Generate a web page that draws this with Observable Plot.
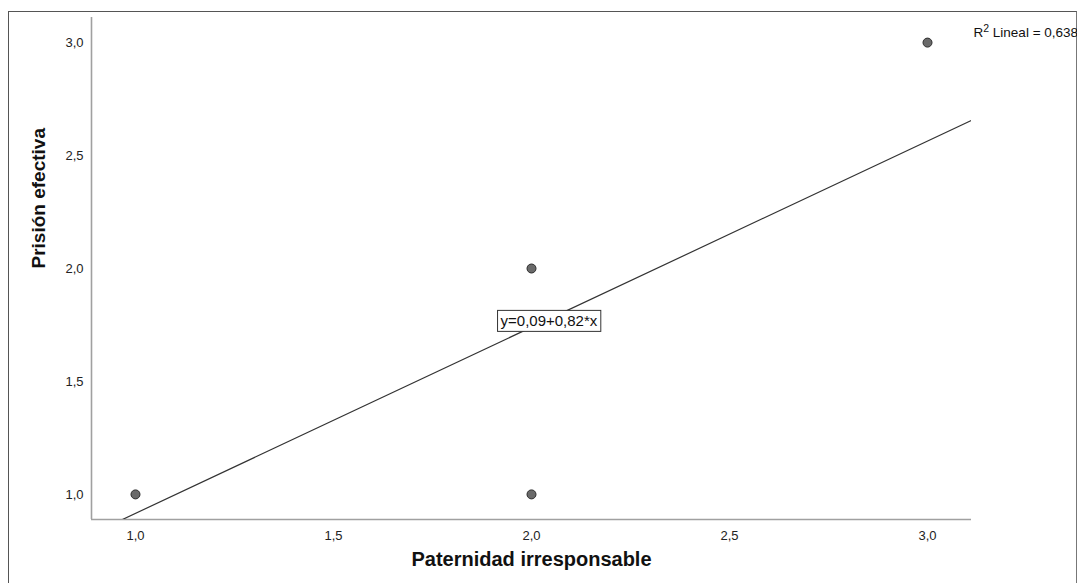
<!DOCTYPE html>
<html>
<head>
<meta charset="utf-8">
<script src="https://cdn.jsdelivr.net/npm/d3@7"></script>
<script src="https://cdn.jsdelivr.net/npm/@observablehq/plot@0.6"></script>
<style>
  body { margin: 0; background: #fff; font-family: Arial, "Liberation Sans", sans-serif; }
  #wrap { position: relative; width: 1077px; height: 583px; overflow: hidden; }
  #frame { position: absolute; left: 8px; top: 11px; width: 1067px; height: 600px;
           border-left: 1px solid #555; border-top: 1px solid #555; border-right: 1px solid #777; }
  #chart { position: absolute; left: 0; top: 0; }
</style>
</head>
<body>
<div id="wrap"><div id="frame"></div><div id="chart"></div></div>
<script>
// Data
const paternidad = [1, 2, 2, 3];      // x: Paternidad irresponsable
const prision    = [1, 2, 1, 3];      // y: Prisión efectiva
const xTicks = [1.0, 1.5, 2.0, 2.5, 3.0];
const yTicks = [1.0, 1.5, 2.0, 2.5, 3.0];
const fitIntercept = 0.092;
const fitSlope = 0.824;
const r2 = 0.638;
const domainX = [0.8889, 3.1111];
const domainY = [0.8889, 3.1111];

const points = paternidad.map((x, i) => ({x, y: prision[i]}));
const fitLine = domainX.map(x => ({x, y: fitIntercept + fitSlope * x}));
const fmt = d => d.toFixed(1).replace(".", ",");
const eqLabel = `y=${fitIntercept.toFixed(2).replace(".", ",")}+${fitSlope.toFixed(2).replace(".", ",")}*x`;
const r2Text = r2.toFixed(3).replace(".", ",");

const plot = Plot.plot({
  width: 1077,
  height: 583,
  marginLeft: 91,
  marginRight: 106,
  marginTop: 17,
  marginBottom: 64,
  style: {fontFamily: "Arial, 'Liberation Sans', sans-serif", fontSize: "13px", background: "transparent", overflow: "visible"},
  x: {domain: domainX},
  y: {domain: domainY},
  marks: [
    Plot.axisX({ticks: xTicks, tickFormat: fmt, tickSize: 0, tickPadding: 11, label: null, fill: "#222", fontSize: 13}),
    Plot.axisY({ticks: yTicks, tickFormat: fmt, tickSize: 0, tickPadding: 8, label: null, fill: "#222", fontSize: 13}),
    Plot.ruleX([domainX[0]], {stroke: "#a0a0a0", strokeWidth: 1.6}),
    Plot.ruleY([domainY[0]], {stroke: "#a0a0a0", strokeWidth: 1.6}),
    Plot.line(fitLine, {x: "x", y: "y", stroke: "#333", strokeWidth: 1.2, clip: true}),
    Plot.dot(points, {x: "x", y: "y", r: 4.5, fill: "#6a6a6a", stroke: "#2a2a2a", strokeWidth: 1}),
    Plot.text([eqLabel], {x: [2.044], y: [1.765], text: d => d, fontSize: 15, fill: "#111", className: "eqlabel"}),
    Plot.text([`R2 Lineal = ${r2Text}`], {frameAnchor: "top-right", textAnchor: "start", dx: 2, dy: 10, fontSize: 13.5, fill: "#111", className: "r2label"}),
    Plot.text(["Paternidad irresponsable"], {frameAnchor: "bottom", dy: 46, fontSize: 20, fontWeight: "bold", fill: "#111"}),
    Plot.text(["Prisión efectiva"], {frameAnchor: "left", dx: -53, rotate: -90, fontSize: 19, fontWeight: "bold", fill: "#111"})
  ]
});
document.getElementById("chart").appendChild(plot);

const SVGNS = "http://www.w3.org/2000/svg";
// superscript in R² label
const r2g = plot.querySelector("g.r2label text");
if (r2g) {
  r2g.textContent = "";
  const a = document.createElementNS(SVGNS, "tspan"); a.textContent = "R";
  const s = document.createElementNS(SVGNS, "tspan"); s.textContent = "2";
  s.setAttribute("dy", "-5"); s.setAttribute("font-size", "10.5");
  const b = document.createElementNS(SVGNS, "tspan"); b.textContent = " Lineal = " + r2Text;
  b.setAttribute("dy", "5");
  r2g.append(a, s, b);
}

// box behind equation label
const g = plot.querySelector("g.eqlabel");
if (g) {
  const t = g.querySelector("text");
  const bb = t.getBBox();
  const rect = document.createElementNS(SVGNS, "rect");
  rect.setAttribute("x", bb.x - 3);
  rect.setAttribute("y", bb.y - 2);
  rect.setAttribute("width", bb.width + 6);
  rect.setAttribute("height", bb.height + 4);
  rect.setAttribute("fill", "#fff");
  rect.setAttribute("stroke", "#333");
  rect.setAttribute("stroke-width", "1");
  if (t.getAttribute("transform")) rect.setAttribute("transform", t.getAttribute("transform"));
  g.insertBefore(rect, t);
}
</script>
</body>
</html>
